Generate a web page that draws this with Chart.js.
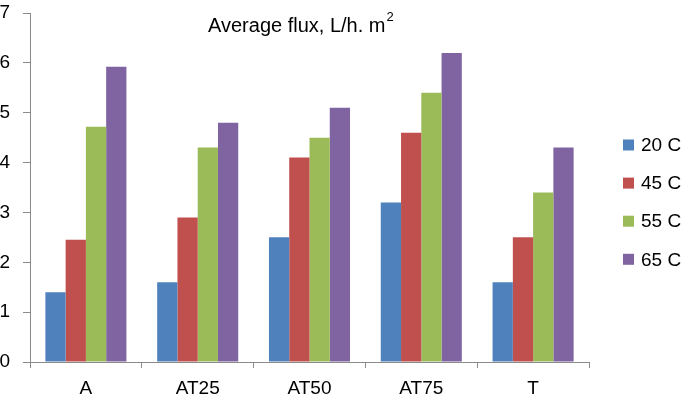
<!DOCTYPE html>
<html>
<head>
<meta charset="utf-8">
<script src="https://cdn.jsdelivr.net/npm/chart.js@4"></script>
<style>
    body { margin: 0; background: #ffffff; }
    #wrap { width: 685px; height: 401px; }
</style>
</head>
<body>
<div id="wrap"><canvas id="fluxChart" width="685" height="401"></canvas></div>
<script>
// Chart data
const categories = ['A', 'AT25', 'AT50', 'AT75', 'T'];
const seriesNames = ['20 C', '45 C', '55 C', '65 C'];
const flux20 = [1.4, 1.6, 2.5, 3.2, 1.6];
const flux45 = [2.45, 2.9, 4.1, 4.6, 2.5];
const flux55 = [4.72, 4.3, 4.5, 5.4, 3.4];
const flux65 = [5.92, 4.8, 5.1, 6.2, 4.3];
const yTicks = [0, 1, 2, 3, 4, 5, 6, 7];

const seriesColors = ['#4F81BD', '#C0504D', '#9BBB59', '#8064A2'];
const axisColor = '#8a8a8a';
const fontFamily = '"Liberation Sans", Arial, sans-serif';

// Title and legend drawn on the canvas
const overlayPlugin = {
    id: 'overlay',
    afterDraw(chart) {
        const ctx = chart.ctx;
        ctx.save();
        ctx.fillStyle = '#000000';
        ctx.textBaseline = 'alphabetic';
        ctx.textAlign = 'left';

        // Title with superscript
        ctx.font = '20px ' + fontFamily;
        const mainText = 'Average flux, L/h. m';
        ctx.fillText(mainText, 208, 31.5);
        const w = ctx.measureText(mainText).width;
        ctx.font = '13px ' + fontFamily;
        ctx.fillText('2', 208 + w + 1, 21);

        // Legend
        ctx.font = '19px ' + fontFamily;
        ctx.textBaseline = 'middle';
        chart.data.datasets.forEach((ds, i) => {
            const cy = 145 + i * 38.1;
            ctx.fillStyle = ds.backgroundColor;
            ctx.fillRect(623, cy - 5.5, 11, 11);
            ctx.fillStyle = '#000000';
            ctx.fillText(ds.label, 641, cy + 1);
        });
        ctx.restore();
    }
};

const datasets = [flux20, flux45, flux55, flux65].map((values, i) => ({
    label: seriesNames[i],
    data: values,
    backgroundColor: seriesColors[i],
    borderWidth: 0,
    categoryPercentage: 0.725,
    barPercentage: 1.0
}));

new Chart(document.getElementById('fluxChart'), {
    type: 'bar',
    data: {
        labels: categories,
        datasets: datasets
    },
    options: {
        responsive: false,
        animation: false,
        devicePixelRatio: 1,
        layout: {
            padding: { left: 0, top: 13, right: 96, bottom: 0 }
        },
        plugins: {
            legend: { display: false },
            title: { display: false },
            tooltip: { enabled: false }
        },
        scales: {
            x: {
                grid: {
                    offset: true,
                    drawOnChartArea: false,
                    drawTicks: true,
                    tickLength: 6,
                    color: axisColor
                },
                border: { color: axisColor, width: 1 },
                ticks: {
                    color: '#000000',
                    font: { family: fontFamily, size: 19 },
                    padding: 9,
                    maxRotation: 0
                },
                afterFit(scale) {
                    scale.height = 39;
                    scale.paddingLeft = 0;
                    scale.paddingRight = 0;
                }
            },
            y: {
                min: 0,
                max: 7,
                grid: {
                    drawOnChartArea: false,
                    drawTicks: true,
                    tickLength: 7,
                    color: axisColor
                },
                border: { color: axisColor, width: 1 },
                ticks: {
                    color: '#000000',
                    font: { family: fontFamily, size: 19 },
                    padding: 13,
                    stepSize: 1
                },
                afterBuildTicks(scale) {
                    scale.ticks = yTicks.map(v => ({ value: v }));
                },
                afterFit(scale) {
                    scale.width = 30;
                    scale.paddingTop = 0;
                    scale.paddingBottom = 0;
                }
            }
        }
    },
    plugins: [overlayPlugin]
});
</script>
</body>
</html>
